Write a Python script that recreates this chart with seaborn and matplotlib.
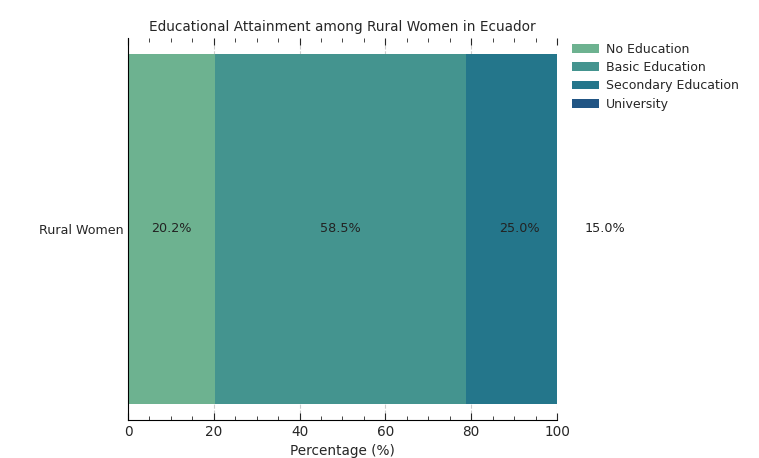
import matplotlib
matplotlib.use("Agg")
import matplotlib.pyplot as plt
from matplotlib.ticker import MultipleLocator
import numpy as np
import seaborn as sns

# data
group = "Rural Women"
levels = ["No Education", "Basic Education", "Secondary Education", "University"]
shares = [20.2, 58.5, 25.0, 15.0]

sns.set_style("white")
plt.rcParams['font.family'] = ['DejaVu Sans']
colors = sns.color_palette("crest", len(levels))

fig = plt.figure(figsize=(7.59, 4.58), dpi=100)
ax = fig.add_axes([0.1686, 0.083, 0.5653, 0.834])

cum = np.cumsum(shares)
# draw cumulative totals from the largest down so each segment shows as stacked
for i in reversed(range(len(levels))):
    sns.barplot(x=[cum[i]], y=[group], color=colors[i], orient="h",
                width=0.915, label=levels[i], ax=ax, saturation=1,
                edgecolor="none", linewidth=0)

lefts = cum - np.array(shares)
for l, w in zip(lefts, shares):
    ax.text(l + w / 2, 0, "{:.1f}%".format(w), ha="center", va="center",
            fontsize=9.2, color="#222222", clip_on=False)

ax.set_xlim(0, 100)
ax.set_xlabel("Percentage (%)", fontsize=9.8)
ax.set_ylabel("")
ax.set_title("Educational Attainment among Rural Women in Ecuador", fontsize=9.8, pad=5)
ax.xaxis.set_major_locator(MultipleLocator(20))
ax.xaxis.set_minor_locator(MultipleLocator(5))
ax.tick_params(axis="x", which="both", direction="in", top=True, bottom=True, labelsize=9.8)
ax.tick_params(axis="x", which="major", length=5)
ax.tick_params(axis="x", which="minor", length=3)
ax.tick_params(axis="y", length=0, labelsize=9.1, pad=3)
ax.grid(axis="x", linestyle="--", color="#cccccc", linewidth=0.8)
ax.set_axisbelow(True)
for s in ["top", "right"]:
    ax.spines[s].set_visible(False)
for s in ["left", "bottom"]:
    ax.spines[s].set_color("black")

handles, labels = ax.get_legend_handles_labels()
order = [labels.index(n) for n in levels]
ax.legend([handles[k] for k in order], levels, loc="upper left",
          bbox_to_anchor=(1.008, 1.017), frameon=False, fontsize=9,
          handlelength=2.2, labelspacing=0.42, handletextpad=0.55)

fig.savefig("out.png", dpi=100)
